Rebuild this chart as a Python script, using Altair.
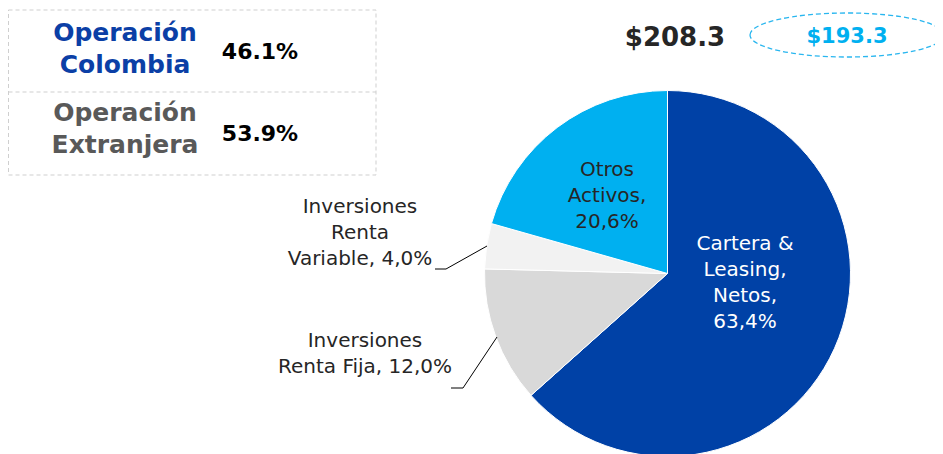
import altair as alt
import pandas as pd

FONT = "DejaVu Sans"

# ---- data ----
categories = ["Cartera & Leasing, Netos", "Inversiones Renta Fija",
              "Inversiones Renta Variable", "Otros Activos"]
shares = [63.4, 12.0, 4.0, 20.6]
slice_colors = ["#0041A6", "#D9D9D9", "#F2F2F2", "#00B0F0"]

op_names = ["Operación\nColombia", "Operación\nExtranjera"]
op_shares = [46.1, 53.9]

total_current = 208.3
total_previous = 193.3


def pct(v):
    return f"{v:.1f}".replace(".", ",") + "%"


label_texts = [
    "Cartera &\nLeasing,\nNetos,\n" + pct(shares[0]),
    "Inversiones\nRenta Fija, " + pct(shares[1]),
    "Inversiones\nRenta\nVariable, " + pct(shares[2]),
    "Otros\nActivos,\n" + pct(shares[3]),
]

# ---- pie ----
CX, CY, R = 659.5, 265.5, 183
pie_df = pd.DataFrame({"cat": categories, "share": shares, "ord": list(range(len(shares)))})
pie = alt.Chart(pie_df).mark_arc(outerRadius=R, stroke="white", strokeWidth=1).encode(
    theta=alt.Theta("share:Q", stack=True),
    color=alt.Color("cat:N", scale=alt.Scale(domain=categories, range=slice_colors), legend=None),
    order=alt.Order("ord:Q"),
    x=alt.value(CX),
    y=alt.value(CY),
)


def label(text, x, y, size, color, weight="normal", line_height=26):
    return alt.Chart(pd.DataFrame({"t": [text]})).mark_text(
        font=FONT, fontSize=size, fontWeight=weight, color=color,
        lineBreak="\n", lineHeight=line_height, align="center", baseline="middle",
    ).encode(text="t:N", x=alt.value(x), y=alt.value(y))


def rule(x, y, x2, y2, color="#000000", dash=None, width=1):
    kw = dict(color=color, strokeWidth=width)
    if dash:
        kw["strokeDash"] = dash
    return alt.Chart(pd.DataFrame({"a": [0]})).mark_rule(**kw).encode(
        x=alt.value(x), y=alt.value(y), x2=alt.value(x2), y2=alt.value(y2))


layers = [pie]

# slice labels (y = first line)
layers.append(label(label_texts[0], 737, 236, 20, "#FFFFFF"))
layers.append(label(label_texts[3], 599, 162, 20, "#262626"))
layers.append(label(label_texts[2], 352, 199, 20, "#262626"))
layers.append(label(label_texts[1], 357, 333, 20, "#262626"))

# leader lines
layers.append(rule(427, 261, 438, 261))
layers.append(rule(438, 261, 479, 238))
layers.append(rule(443, 380, 455, 380))
layers.append(rule(455, 380, 489, 329))

# top-left box
box = alt.Chart(pd.DataFrame({"a": [0]})).mark_rect(
    fillOpacity=0, stroke="#CFCFCF", strokeWidth=1, strokeDash=[4, 3]
).encode(x=alt.value(0.5), x2=alt.value(368), y=alt.value(2), y2=alt.value(167))
layers.append(box)
layers.append(rule(0.5, 84, 368, 84, color="#CFCFCF", dash=[4, 3]))

layers.append(label(op_names[0], 117, 25, 25, "#0B3FA6", "bold", 32))
layers.append(label(op_names[1], 117, 105, 25, "#595959", "bold", 32))
layers.append(label(f"{op_shares[0]:.1f}%", 252, 44, 22, "#000000", "bold"))
layers.append(label(f"{op_shares[1]:.1f}%", 252, 126, 22, "#000000", "bold"))

# totals
layers.append(label(f"${total_current:.1f}", 667, 30, 26, "#262626", "bold"))
ellipse = alt.Chart(pd.DataFrame({"a": [0]})).mark_point(
    shape="M -1 0 A 1 0.227 0 1 1 1 0 A 1 0.227 0 1 1 -1 0 Z",
    filled=False, stroke="#29B6EF", strokeWidth=1.3, strokeDash=[5, 3],
    size=194 * 194, opacity=1,
).encode(x=alt.value(839), y=alt.value(27))
layers.append(ellipse)
layers.append(label(f"${total_previous:.1f}", 839, 29, 21, "#00B0F0", "bold"))

chart = alt.layer(*layers).properties(
    width=927, height=446, padding=0,
    autosize=alt.AutoSizeParams(type="none"),
).configure_view(stroke=None)

chart.save("out.html", embed_options={"renderer": "svg", "actions": False})
